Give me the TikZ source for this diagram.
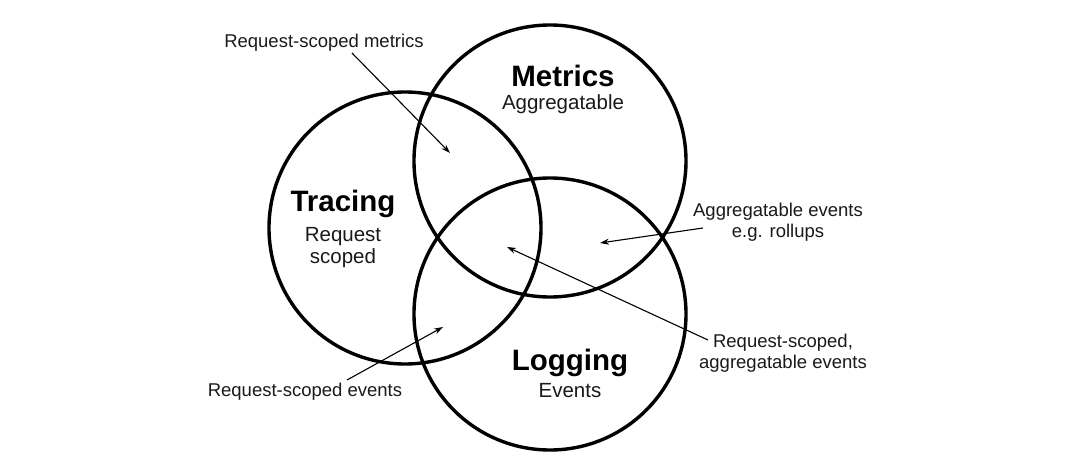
\documentclass[tikz,border=0pt]{standalone}
\usepackage{fontspec}
\setmainfont{Liberation Sans}
\usetikzlibrary{arrows.meta}
\definecolor{ink}{HTML}{1A1A1A}
\begin{document}
\begin{tikzpicture}[x=1pt,y=-1pt,
  ring/.style={draw=black,line width=3.4pt},
  title/.style={font=\fontsize{29.5}{31}\selectfont\bfseries,text=black,inner sep=0pt},
  sub/.style={font=\fontsize{20.5}{22}\selectfont,text=ink,inner sep=0pt,align=center},
  lab/.style={font=\fontsize{18.5}{21.5}\selectfont,text=ink,inner sep=0pt,align=center},
  arr/.style={draw=black,line width=1.1pt,-{Stealth[length=9pt,width=6pt]}}]
\useasboundingbox (0,0) rectangle (1080,473);
\fill[white] (0,0) rectangle (1080,473);
\draw[ring] (550,161) circle (136);
\draw[ring] (405,228) circle (136);
\draw[ring] (550,314) circle (136);
\node[title] (mt) at (563,76) {Metrics};
\node[sub] (ms) at (563,104) {Aggregatable};
\node[title] (tt) at (343,204) {Tracing};
\node[sub] (ts) at (343,248) {Request\\scoped};
\node[title] (lt) at (570,363) {Logging};
\node[sub] (ls) at (570,391) {Events};
\node[lab] (l1) at (324,43) {Request-scoped metrics};
\node[lab] (l2) at (778,222) {Aggregatable events\\e.g. rollups};
\node[lab] (l3) at (783,353) {Request-scoped,\\aggregatable events};
\node[lab] (l4) at (305,392) {Request-scoped events};
\coordinate (a1) at (450,153);
\coordinate (a2) at (600,243);
\coordinate (a3) at (507,247);
\coordinate (a4) at (443,327);
\coordinate (s1) at (352,53);
\coordinate (s2) at (703,228);
\coordinate (s3) at (708,340);
\coordinate (s4) at (347,380);
\draw[arr] (s1) -- (a1);
\draw[arr] (s2) -- (a2);
\draw[arr] (s3) -- (a3);
\draw[arr] (s4) -- (a4);
\end{tikzpicture}
\end{document}
